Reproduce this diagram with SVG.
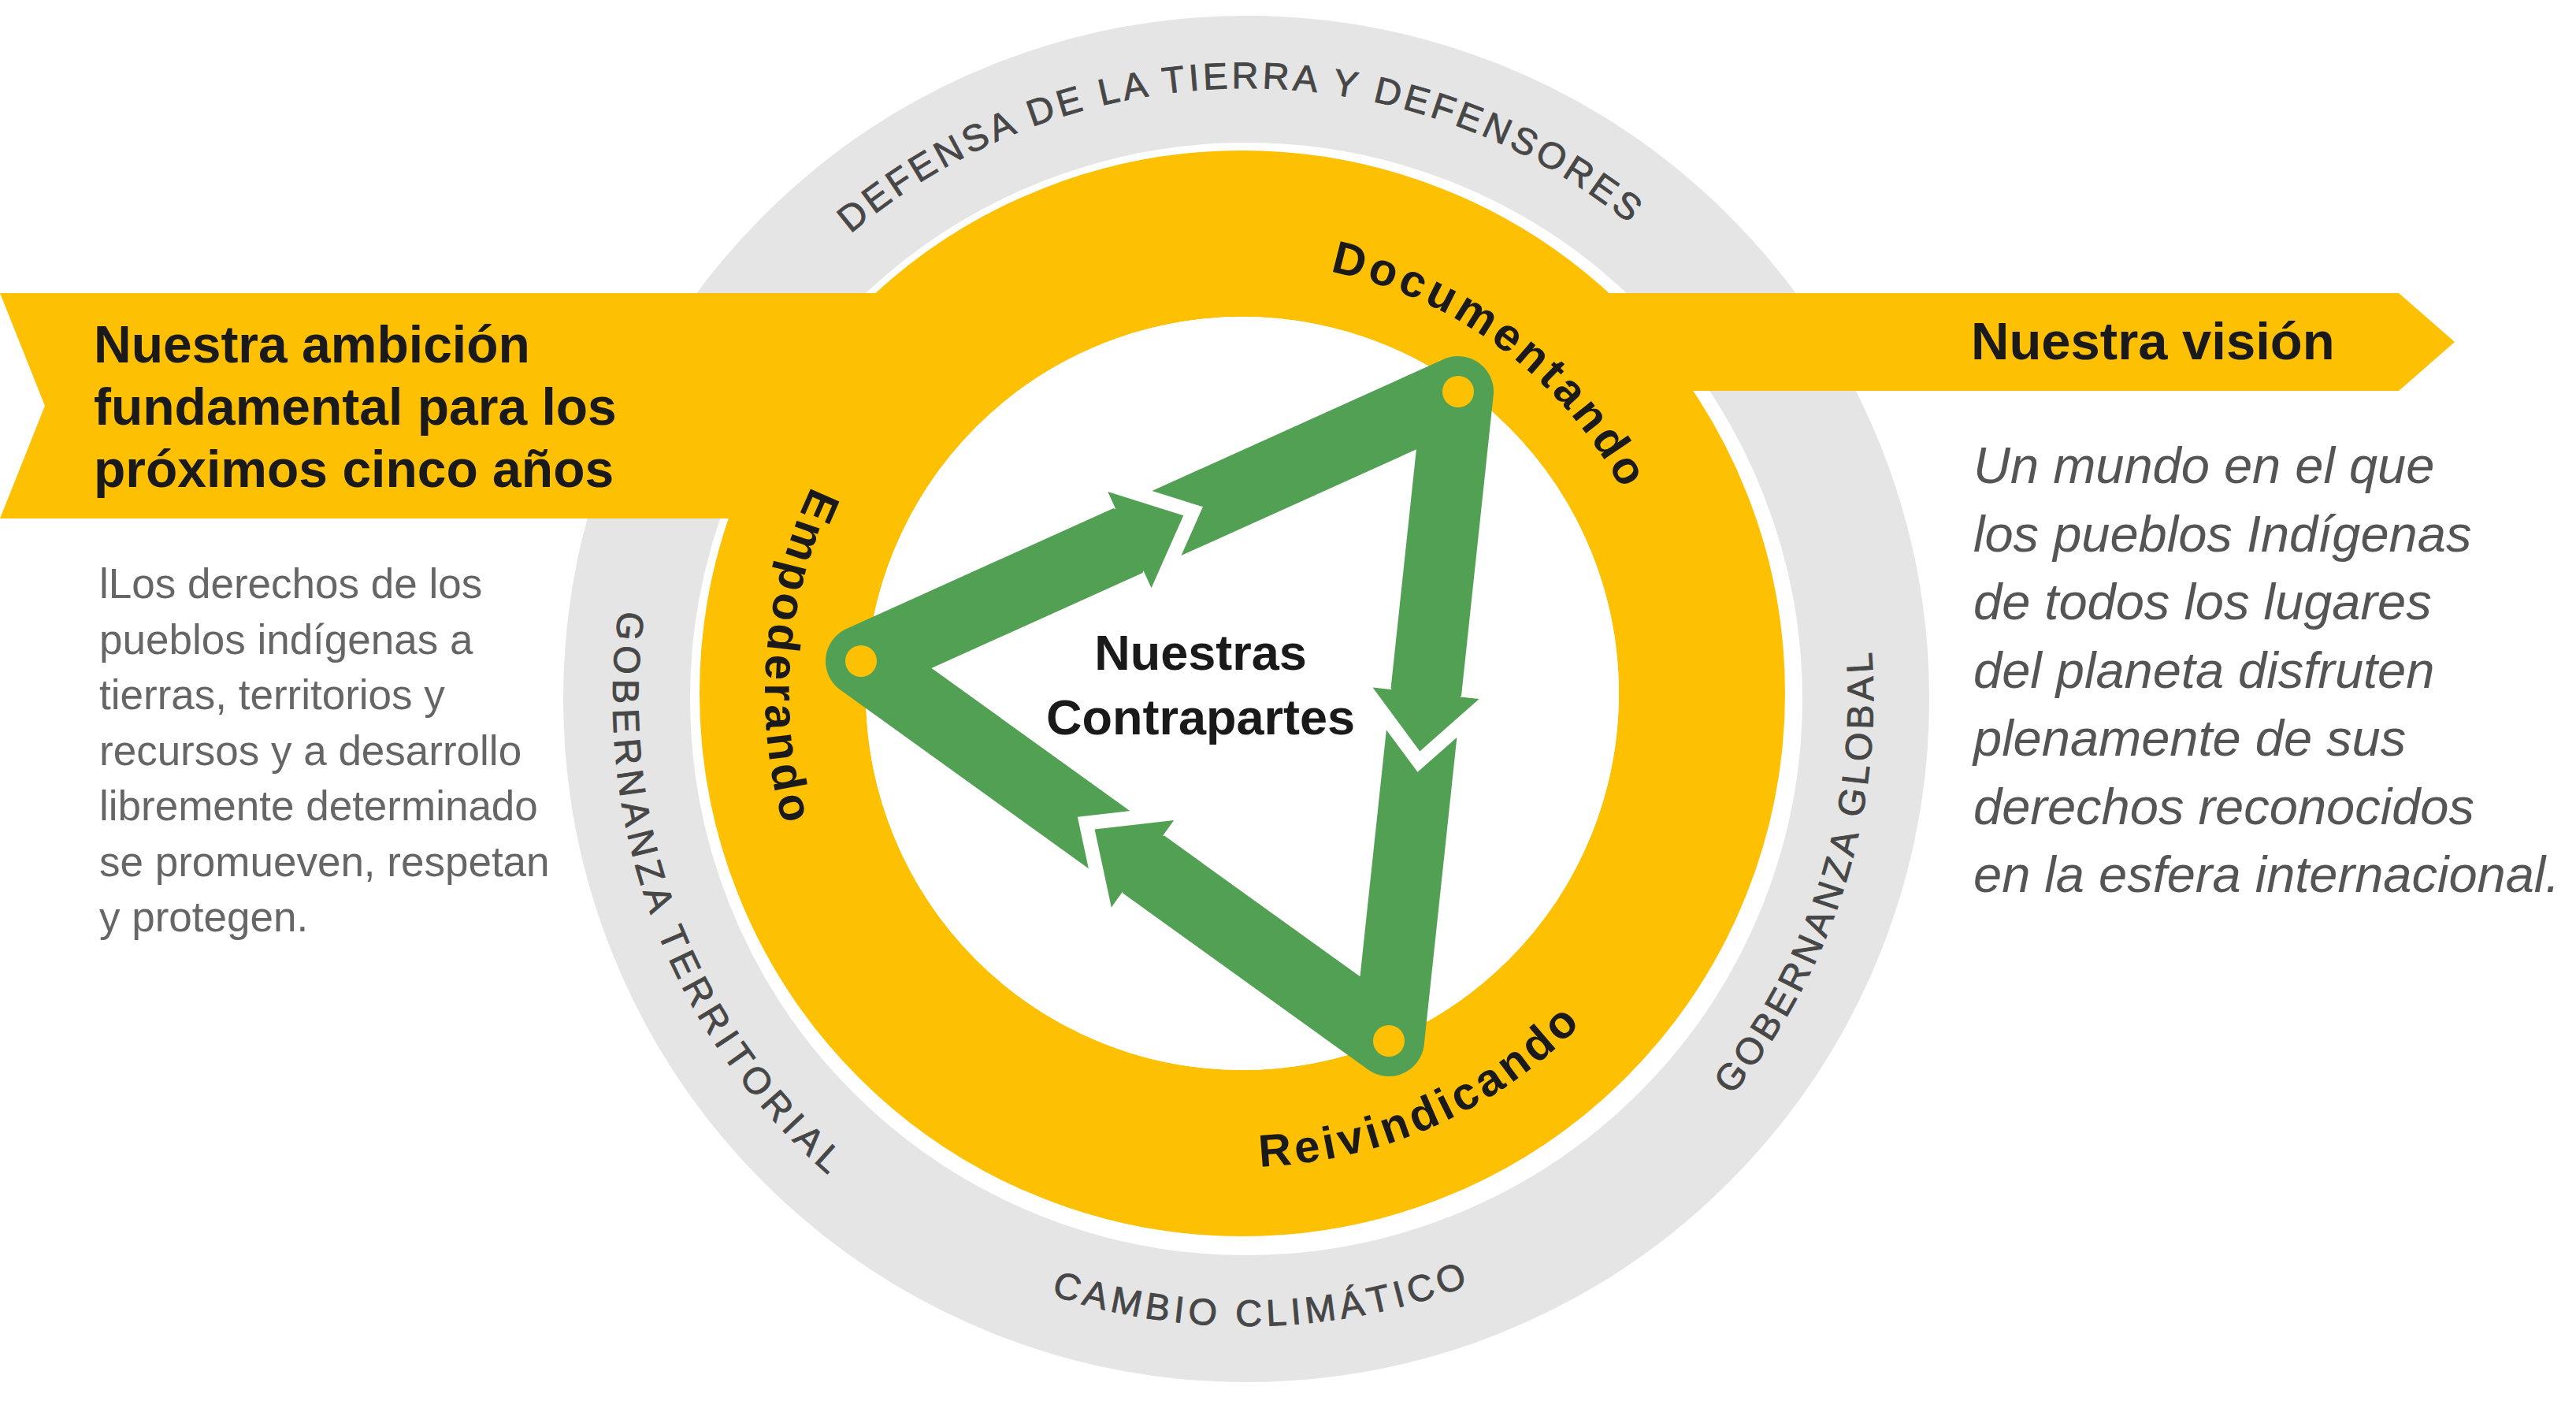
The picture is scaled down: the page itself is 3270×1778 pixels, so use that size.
<svg xmlns="http://www.w3.org/2000/svg" width="3270" height="1778" viewBox="0 0 3270 1778">
  <style>
    .band{fill:#FDC003}
    .title{font-family:"Liberation Sans",Arial,sans-serif;font-weight:bold;fill:#1a1a1a}
    .para-l{font-family:"Liberation Sans",Arial,sans-serif;font-size:53px;fill:#666666}
    .para-r{font-family:"Liberation Sans",Arial,sans-serif;font-size:65px;font-style:italic;fill:#555555}
    .theme{font-family:"Liberation Sans",Arial,sans-serif;font-size:47px;fill:#474747;stroke:#474747;stroke-width:0.9}
    .step{font-family:"Liberation Sans",Arial,sans-serif;font-size:58px;font-weight:bold;fill:#1a1a1a;letter-spacing:5px}
    .arrow-gap{fill:none;stroke:#ffffff;stroke-width:36;stroke-linejoin:miter;stroke-miterlimit:4}
    .arrow-head{fill:#52A054}
    .dot{fill:#FDC003}
  </style>
  <defs>
    <path id="arc-top" d="M906.8,506.6 A775,775 0 0 1 2249.0,492.5"/>
    <path id="arc-left" d="M960.7,376.7 A804,804 0 0 0 1450.7,1680.2"/>
    <path id="arc-right" d="M1757.0,1663.5 A796,796 0 0 0 2167.0,347.2"/>
    <path id="arc-bottom" d="M903.3,1302.9 A796,796 0 0 0 2281.5,1266.9"/>
    <path id="arc-doc" d="M1363.3,376.5 A547,547 0 0 1 2119.9,946.7"/>
    <path id="arc-rei" d="M1224.6,1366.8 A601,601 0 0 0 2174.8,941.8"/>
    <path id="arc-emp" d="M1317.5,332.4 A606,606 0 0 0 1232.4,1378.5"/>
  </defs>

  <rect width="3270" height="1778" fill="#ffffff"/>

  <g id="outer-ring">
    <circle cx="1582" cy="887" r="786.5" fill="none" stroke="#E5E5E5" stroke-width="161"/>
  </g>

  <g id="banner-ambicion">
    <path class="band" d="M0,372 L1130,372 L1130,658 L0,658 L57,515 Z"/>
    <text class="title" font-size="66" x="119" y="460">Nuestra ambición</text>
    <text class="title" font-size="66" x="119" y="539">fundamental para los</text>
    <text class="title" font-size="66" x="119" y="618">próximos cinco años</text>
  </g>

  <g id="banner-vision">
    <path class="band" d="M2000,372 L3045,372 L3116,434 L3045,496 L2000,496 Z"/>
    <text class="title" font-size="67" x="2502" y="456">Nuestra visión</text>
  </g>

  <g id="inner-ring">
    <circle cx="1577" cy="880" r="583.5" fill="none" stroke="#FDC003" stroke-width="211"/>
    <circle cx="1577" cy="880" r="478" fill="#ffffff"/>
  </g>

  <g id="connectors">
    <path d="M1093,839 L1851,497 L1763,1321 Z" fill="none" stroke="#52A054" stroke-width="90" stroke-linejoin="round"/>
    <polyline class="arrow-gap" points="1406.3,624.1 1502.3,654.3 1461.5,746.3"/>
    <polygon class="arrow-head" points="1406.3,624.1 1502.3,654.3 1461.5,746.3"/>
    <polyline class="arrow-gap" points="1742.5,872.6 1802.3,953.4 1877.7,887.0"/>
    <polygon class="arrow-head" points="1742.5,872.6 1802.3,953.4 1877.7,887.0"/>
    <polyline class="arrow-gap" points="1490.2,1041.0 1389.6,1052.4 1410.8,1151.4"/>
    <polygon class="arrow-head" points="1490.2,1041.0 1389.6,1052.4 1410.8,1151.4"/>
  </g>

  <g id="node-empoderando">
    <circle class="dot" cx="1093" cy="839" r="20"/>
    <text class="step" letter-spacing="4.5"><textPath href="#arc-emp" startOffset="50%" text-anchor="middle">Empoderando</textPath></text>
  </g>
  <g id="node-documentando">
    <circle class="dot" cx="1851" cy="497" r="20"/>
    <text class="step" letter-spacing="4.5"><textPath href="#arc-doc" startOffset="50%" text-anchor="middle">Documentando</textPath></text>
  </g>
  <g id="node-reivindicando">
    <circle class="dot" cx="1763" cy="1321" r="20"/>
    <text class="step" letter-spacing="6"><textPath href="#arc-rei" startOffset="50%" text-anchor="middle">Reivindicando</textPath></text>
  </g>

  <g id="node-contrapartes">
    <text class="title" font-size="63" x="1524" y="850" text-anchor="middle">Nuestras</text>
    <text class="title" font-size="63" x="1524" y="932" text-anchor="middle">Contrapartes</text>
  </g>

  <g id="themes">
    <text class="theme" letter-spacing="4.5"><textPath href="#arc-top" startOffset="50%" text-anchor="middle">DEFENSA DE LA TIERRA Y DEFENSORES</textPath></text>
    <text class="theme" letter-spacing="7"><textPath href="#arc-left" startOffset="50%" text-anchor="middle">GOBERNANZA TERRITORIAL</textPath></text>
    <text class="theme" letter-spacing="4.8"><textPath href="#arc-right" startOffset="50%" text-anchor="middle">GOBERNANZA GLOBAL</textPath></text>
    <text class="theme" letter-spacing="5.7"><textPath href="#arc-bottom" startOffset="50%" text-anchor="middle">CAMBIO CLIMÁTICO</textPath></text>
  </g>

  <g id="text-ambicion">
    <text class="para-l" x="126" y="759">lLos derechos de los</text>
    <text class="para-l" x="126" y="829.5">pueblos indígenas a</text>
    <text class="para-l" x="126" y="900">tierras, territorios y</text>
    <text class="para-l" x="126" y="970.5">recursos y a desarrollo</text>
    <text class="para-l" x="126" y="1041">libremente determinado</text>
    <text class="para-l" x="126" y="1111.5">se promueven, respetan</text>
    <text class="para-l" x="126" y="1182">y protegen.</text>
  </g>

  <g id="text-vision">
    <text class="para-r" x="2505" y="613">Un mundo en el que</text>
    <text class="para-r" x="2505" y="699.5">los pueblos Indígenas</text>
    <text class="para-r" x="2505" y="786">de todos los lugares</text>
    <text class="para-r" x="2505" y="872.5">del planeta disfruten</text>
    <text class="para-r" x="2505" y="959">plenamente de sus</text>
    <text class="para-r" x="2505" y="1045.5">derechos reconocidos</text>
    <text class="para-r" x="2505" y="1132">en la esfera internacional.</text>
  </g>
</svg>
